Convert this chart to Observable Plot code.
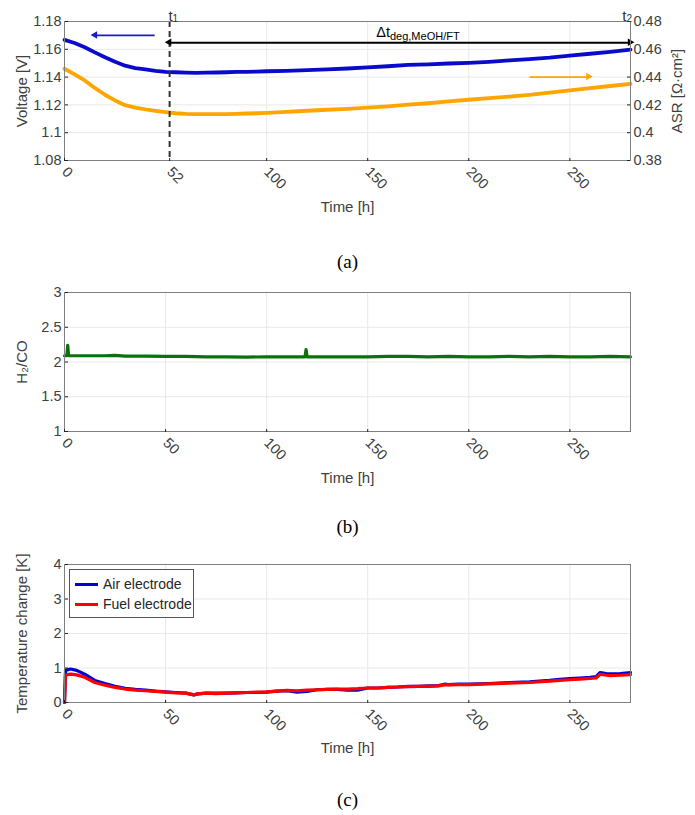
<!DOCTYPE html>
<html>
<head>
<meta charset="utf-8">
<script src="https://cdn.jsdelivr.net/npm/d3@7"></script>
<script src="https://cdn.jsdelivr.net/npm/@observablehq/plot@0.6"></script>
<style>
  body { margin: 0; background: #fff; }
  #fig { position: relative; width: 695px; height: 815px; overflow: hidden; font-family: "Liberation Sans", Arial, sans-serif; }
  #fig svg { position: absolute; left: 0; }
  .cap { position: absolute; left: 0; width: 695px; text-align: center; line-height: 22px;
         font-family: "Liberation Serif", "Times New Roman", serif; font-size: 19px; color: #000; }
  .legend { position: absolute; box-sizing: border-box; border: 1px solid #555; background: #fff;
            font-size: 14px; color: #262626; }
  .legend .row { position: absolute; left: 0; height: 16px; line-height: 16px; white-space: nowrap; }
  .legend .sw { position: absolute; left: 5px; top: 7px; width: 23px; height: 3px; }
  .legend .lab { position: absolute; left: 33px; top: 0; }
</style>
</head>
<body>
<div id="fig"></div>
<script>
// ---- (a) cell voltage and area specific resistance over operating time ----
const timeA = [0,5,10,15,20,25,30,35,40,45,50,55,60,65,70,75,80,85,90,95,100,110,120,130,140,150,160,170,180,190,200,210,220,230,240,250,260,270,280];
const voltageV = [1.1668,1.1645,1.1615,1.1578,1.1543,1.1510,1.1482,1.1465,1.1455,1.1445,1.1438,1.1435,1.1432,1.1430,1.1432,1.1433,1.1435,1.1437,1.1438,1.1440,1.1442,1.1445,1.1450,1.1455,1.1462,1.1470,1.1478,1.1488,1.1492,1.1498,1.1503,1.1510,1.1520,1.1530,1.1540,1.1555,1.1568,1.1582,1.1598];
const asrOhm = [0.4460,0.4420,0.4376,0.4322,0.4273,0.4232,0.4198,0.4180,0.4167,0.4157,0.4148,0.4140,0.4136,0.4134,0.4133,0.4133,0.4134,0.4136,0.4138,0.4140,0.4143,0.4150,0.4158,0.4165,0.4172,0.4180,0.4190,0.4202,0.4212,0.4225,0.4237,0.4248,0.4260,0.4272,0.4288,0.4304,0.4320,0.4336,0.4352];
const timeTicksA = [0, 52, 100, 150, 200, 250];
const voltTicks = [1.08, 1.10, 1.12, 1.14, 1.16, 1.18];
const asrTicks = [0.38, 0.40, 0.42, 0.44, 0.46, 0.48];
const tMarkers = [{t: 52, sub: "1", dx: 3}, {t: 280, sub: "2", dx: -4}];

// ---- (b) H2/CO ratio of the produced syngas ----
const timeB = [0,1.2,1.6,2.0,10,20,25,30,40,50,60,70,80,90,100,110,119,119.5,120,130,140,150,160,170,180,190,200,210,220,230,240,250,260,270,280];
const ratioH2CO = [2.09,2.09,2.24,2.09,2.09,2.09,2.095,2.085,2.085,2.08,2.08,2.075,2.075,2.07,2.075,2.075,2.075,2.18,2.075,2.075,2.075,2.075,2.08,2.08,2.075,2.08,2.075,2.075,2.08,2.075,2.08,2.075,2.075,2.08,2.075];
const ratioTicks = [1, 1.5, 2, 2.5, 3];

// ---- (c) temperature change at both electrodes ----
const timeC = [0,0.5,3,6,10,15,20,25,30,35,40,45,50,55,60,64,66,70,75,80,85,90,95,100,105,110,115,120,125,130,135,140,145,150,155,160,165,170,175,180,185,188,190,195,200,210,220,230,240,245,250,255,260,263,265,268,270,275,280];
const tempAir = [0,0.93,0.97,0.93,0.82,0.64,0.55,0.47,0.41,0.38,0.36,0.33,0.31,0.29,0.27,0.22,0.25,0.27,0.27,0.27,0.28,0.29,0.29,0.30,0.33,0.34,0.30,0.32,0.37,0.38,0.38,0.36,0.36,0.42,0.42,0.44,0.45,0.47,0.47,0.48,0.49,0.53,0.52,0.53,0.53,0.55,0.58,0.60,0.64,0.67,0.69,0.71,0.73,0.75,0.87,0.84,0.83,0.84,0.87];
const tempFuel = [0,0.80,0.82,0.80,0.73,0.58,0.50,0.44,0.39,0.36,0.34,0.32,0.30,0.28,0.27,0.22,0.25,0.27,0.26,0.27,0.28,0.29,0.30,0.31,0.33,0.35,0.34,0.36,0.37,0.38,0.39,0.39,0.40,0.42,0.42,0.44,0.45,0.46,0.47,0.47,0.48,0.51,0.51,0.52,0.52,0.54,0.56,0.58,0.62,0.64,0.66,0.68,0.70,0.71,0.82,0.79,0.78,0.79,0.81];
const tempTicks = [0, 1, 2, 3, 4];
const timeTicks = [0, 50, 100, 150, 200, 250];
const seriesC = [
  {name: "Air electrode", color: "#0000d4", values: tempAir},
  {name: "Fuel electrode", color: "#ff0000", values: tempFuel}
];

// ---- shared layout ----
const W = 695, ML = 64, MR = 65, MT = 21;
const PW = W - ML - MR;
const INK = "#404040", FRAME = "#808080", GRID = "#e9e9e9";
const TICK_FS = 14.5, LABEL_FS = 15;
const fmt = d => String(+d.toFixed(2));
const font = "'Liberation Sans', Arial, sans-serif";

function seriesLine(xs, ys, opts) {
  return Plot.line(xs, {x: d => d, y: (d, i) => ys[i], ...opts});
}

function timeAxis(ticks, ph, labelDy) {
  return [
    Plot.axisX(ticks, {anchor: "top", fill: "none", stroke: "#222", tickSize: 3, dy: ph, label: null}),
    Plot.axisX(ticks, {anchor: "bottom", tickSize: 0, tickPadding: 9, tickRotate: 45, textAnchor: "start",
                       fill: INK, fontSize: TICK_FS, tickFormat: d => String(d), label: null}),
    Plot.text(["Time [h]"], {text: d => d, frameAnchor: "bottom", textAnchor: "middle", dy: labelDy, fill: INK, fontSize: LABEL_FS})
  ];
}

function leftAxis(ticks, ph, label) {
  return [
    Plot.axisY(ticks, {anchor: "right", fill: "none", stroke: "#222", tickSize: 3, dx: -PW, label: null}),
    Plot.axisY(ticks, {anchor: "left", tickSize: 0, tickPadding: 3, fill: INK, fontSize: TICK_FS, tickFormat: fmt, label: null}),
    Plot.text([label], {text: d => d, frameAnchor: "left", textAnchor: "middle", lineAnchor: "middle",
                        dx: -42, rotate: -90, fill: INK, fontSize: LABEL_FS})
  ];
}

function panel(ph, domainY, marks) {
  return Plot.plot({
    width: W, height: MT + ph + 70,
    marginLeft: ML, marginRight: MR, marginTop: MT, marginBottom: 70,
    style: {fontFamily: font, background: "white", overflow: "visible"},
    x: {domain: [0, 280]},
    y: {domain: domainY},
    marks
  });
}

const fig = document.getElementById("fig");

// (a)
const PH_A = 139;
const asrToV = d3.scaleLinear([0.38, 0.48], [1.08, 1.18]);
const arrows = [
  {x1: 44.6, x2: 15.3, y: 1.170, color: "#1a1ad0"},
  {x1: 230, x2: 259.4, y: asrToV(0.44), color: "#ffa500"},
  {x1: 52, x2: 280, y: 1.1647, color: "#000"}
];
const heads = [
  {x: 15.3, y: 1.170, color: "#1a1ad0", rot: -90, dx: 4},
  {x: 259.4, y: asrToV(0.44), color: "#ffa500", rot: 90, dx: -4},
  {x: 52, y: 1.1647, color: "#000", rot: -90, dx: 4},
  {x: 280, y: 1.1647, color: "#000", rot: 90, dx: -4}
];
const svgA = panel(PH_A, [1.08, 1.18], [
  Plot.gridX([100, 150, 200, 250], {stroke: GRID, strokeOpacity: 1}),
  Plot.gridY([1.10, 1.12, 1.14, 1.16], {stroke: GRID, strokeOpacity: 1}),
  seriesLine(timeA, voltageV, {stroke: "#0a0acd", strokeWidth: 3.8}),
  seriesLine(timeA, asrOhm.map(asrToV), {stroke: "#ffa500", strokeWidth: 3.8}),
  Plot.ruleX([52], {stroke: "#333", strokeWidth: 2, strokeDasharray: "6,4"}),
  Plot.link(arrows, {x1: "x1", x2: "x2", y1: "y", y2: "y", stroke: "color", strokeWidth: 1.8}),
  Plot.dot(heads, {x: "x", y: "y", fill: "color", symbol: "triangle2", r: 3.6, rotate: "rot", dx: "dx"}),
  Plot.frame({stroke: FRAME}),
  ...timeAxis(timeTicksA, PH_A, 51),
  ...leftAxis(voltTicks, PH_A, "Voltage [V]"),
  Plot.axisY(asrTicks.map(asrToV), {anchor: "left", fill: "none", stroke: "#222", tickSize: 3, dx: PW, label: null}),
  Plot.axisY(asrTicks.map(asrToV), {anchor: "right", tickSize: 0, tickPadding: 3, fill: INK, fontSize: TICK_FS,
                                   tickFormat: d => fmt(asrToV.invert(d)), label: null}),
  Plot.text(["ASR [Ω·cm²]"], {text: d => d, frameAnchor: "right", textAnchor: "middle", lineAnchor: "middle",
                              dx: 47, rotate: -90, fill: INK, fontSize: LABEL_FS}),
  // t1 / t2 markers: letter plus a smaller subscript digit
  ...tMarkers.flatMap(m => [
    Plot.text([m], {x: "t", text: () => "t", frameAnchor: "top", lineAnchor: "bottom", textAnchor: "end",
                    dx: m.dx, dy: -1, fill: "#333", fontSize: 15}),
    Plot.text([m], {x: "t", text: "sub", frameAnchor: "top", lineAnchor: "bottom", textAnchor: "start",
                    dx: m.dx, dy: 0, fill: "#333", fontSize: 10})
  ]),
  Plot.text([161], {x: d => d, text: () => "Δt", frameAnchor: "top", lineAnchor: "bottom", textAnchor: "end",
                    dy: 15, fill: "#000", fontSize: 14.5}),
  Plot.text([161], {x: d => d, text: () => "deg,MeOH/FT", frameAnchor: "top", lineAnchor: "bottom", textAnchor: "start",
                    dy: 18, fill: "#000", fontSize: 11})
]);
svgA.style.top = "0px";
fig.appendChild(svgA);

// (b)
const PH_B = 139;
const svgB = panel(PH_B, [1, 3], [
  Plot.gridX([50, 100, 150, 200, 250], {stroke: GRID, strokeOpacity: 1}),
  Plot.gridY([1.5, 2, 2.5], {stroke: GRID, strokeOpacity: 1}),
  seriesLine(timeB, ratioH2CO, {stroke: "#0b720b", strokeWidth: 3.2}),
  Plot.frame({stroke: FRAME}),
  ...timeAxis(timeTicks, PH_B, 51),
  ...leftAxis(ratioTicks, PH_B, "H₂/CO")
]);
svgB.style.top = "271px";
fig.appendChild(svgB);

// (c)
const PH_C = 138;
const svgC = panel(PH_C, [0, 4], [
  Plot.gridX([50, 100, 150, 200, 250], {stroke: GRID, strokeOpacity: 1}),
  Plot.gridY([1, 2, 3], {stroke: GRID, strokeOpacity: 1}),
  ...seriesC.map(s => seriesLine(timeC, s.values, {stroke: s.color, strokeWidth: 3.2})),
  Plot.frame({stroke: FRAME}),
  ...timeAxis(timeTicks, PH_C, 50),
  ...leftAxis(tempTicks, PH_C, "Temperature change [K]")
]);
svgC.style.top = "543px";
fig.appendChild(svgC);

// legend for (c)
const legend = document.createElement("div");
legend.className = "legend";
Object.assign(legend.style, {left: "69px", top: "569px", width: "125px", height: "49px"});
seriesC.forEach((s, i) => {
  const row = document.createElement("div");
  row.className = "row";
  row.style.top = (6 + i * 20) + "px";
  row.innerHTML = `<span class="sw" style="background:${s.color}"></span><span class="lab">${s.name}</span>`;
  legend.appendChild(row);
});
fig.appendChild(legend);

// panel captions
[["(a)", 251], ["(b)", 516], ["(c)", 789]].forEach(([t, top]) => {
  const c = document.createElement("div");
  c.className = "cap";
  c.style.top = top + "px";
  c.textContent = t;
  fig.appendChild(c);
});
</script>
</body>
</html>
